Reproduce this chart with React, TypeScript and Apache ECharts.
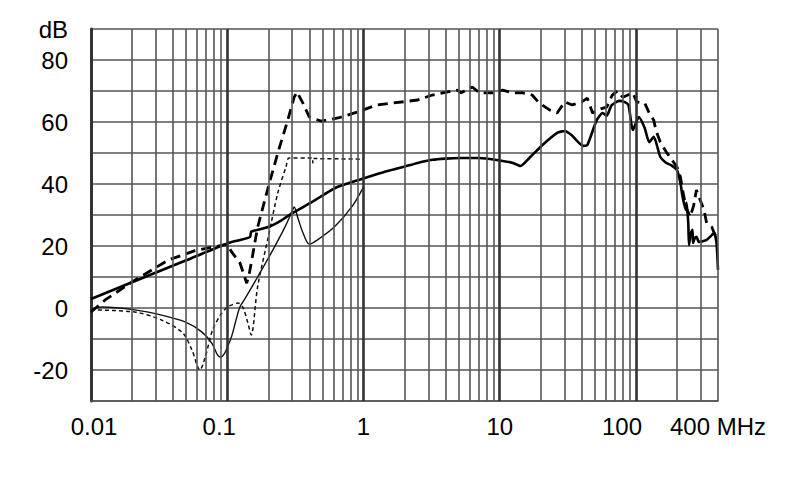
import React, { useEffect, useRef } from "react";
import * as echarts from "echarts";

// Frequencies in MHz, levels in dB
const thickSolidFreq = [0.01, 0.02, 0.05, 0.1, 0.12, 0.147, 0.15, 0.2, 0.25, 0.3, 0.42, 0.62, 0.97, 1.2, 1.5, 1.95, 2.5, 3.2, 4, 5.1, 7.1, 10, 12.5, 14.2, 16.5, 20.6, 26.4, 30, 33.6, 41, 44, 51.5, 57, 61, 66, 75, 82, 88, 95, 105, 116, 125, 135, 151, 167, 181, 200, 212, 220, 232, 235, 242, 245, 252, 260, 262, 270, 278, 290, 330, 360, 375, 390, 400];
const thickSolidDb = [2.9, 8.3, 15.4, 20.8, 21.8, 22.9, 24.6, 26.1, 28.3, 30.6, 34.2, 38.7, 41.6, 42.9, 44.2, 45.5, 46.8, 47.8, 48.2, 48.4, 48.4, 47.6, 46.8, 45.8, 48.4, 52.6, 56.5, 57.1, 55.8, 52.3, 52.6, 60.6, 62.9, 62, 65.3, 66.8, 66.5, 65.5, 57.4, 61.6, 58, 53.5, 55.2, 48.7, 46.8, 46.1, 44.5, 40.3, 35.8, 31.6, 33.9, 27.4, 20.3, 24, 25.2, 21, 22.5, 23, 21.3, 22, 23.5, 24.2, 21, 12.3];

const thickDashFreq = [0.01, 0.0127, 0.02, 0.037, 0.058, 0.091, 0.1, 0.108, 0.124, 0.139, 0.145, 0.15, 0.167, 0.2, 0.235, 0.278, 0.31, 0.325, 0.36, 0.4, 0.49, 0.65, 0.9, 1.25, 1.64, 2.5, 3.2, 4.9, 5.2, 6.3, 7.1, 8.9, 10.5, 12.5, 14.7, 17.3, 19.5, 23.2, 26.4, 30, 34, 40, 44, 48, 52, 61, 67, 73, 80, 95, 101, 116, 125, 135, 140, 151, 167, 184, 200, 212, 220, 232, 250, 265, 278, 290, 316, 330, 360, 375, 400];
const thickDashDb = [-1.3, 2.6, 8.4, 15.5, 18.5, 20.2, 20.5, 18, 14.5, 8, 11, 14.5, 26, 39, 50, 60.6, 68, 69.7, 66, 61.6, 60.3, 61.3, 63.2, 65.5, 66.1, 67.1, 68.7, 70.3, 69.4, 71.3, 69.4, 69.4, 70.3, 69.4, 69.4, 68.7, 66.1, 63.9, 62.9, 66.5, 65.5, 66.5, 67.7, 62.9, 63.9, 64.8, 68.7, 70, 68, 69.4, 66.5, 66.1, 62.9, 60.6, 57.4, 53.5, 50.3, 47.7, 45.5, 42.3, 38.1, 32.6, 29.4, 33, 38.1, 35.8, 31.6, 27.4, 26.1, 24.2, 22];

const thinSolidFreq = [0.01, 0.012, 0.021, 0.033, 0.049, 0.065, 0.077, 0.085, 0.09, 0.096, 0.1, 0.108, 0.115, 0.124, 0.135, 0.167, 0.21, 0.265, 0.3, 0.31, 0.33, 0.36, 0.4, 0.46, 0.61, 0.82, 1.0];
const thinSolidDb = [-0.6, 0.3, -0.6, -2.3, -4.5, -7.7, -11.3, -15.2, -15.8, -14.5, -12.8, -9, -4.5, 0.4, 3, 10, 17.7, 26.1, 31.3, 32.6, 29, 24.2, 20.6, 22, 26.1, 32.6, 39];

const thinDashFreq = [0.01, 0.021, 0.033, 0.047, 0.055, 0.063, 0.069, 0.078, 0.09, 0.1, 0.108, 0.12, 0.13, 0.142, 0.15, 0.167, 0.2, 0.235, 0.27, 0.285, 0.42, 0.425, 0.43, 1.0];
const thinDashDb = [-0.6, -1.3, -3.9, -8, -13.5, -20, -15.8, -7.1, -2, 0.3, 1, 1.6, 0.3, -5, -8.7, 6.8, 22.9, 37.1, 45.5, 48.4, 48.4, 46.8, 48.2, 48];

// Axis grid / tick values
const decadeLines = [0.1, 1, 10, 100];
const minorLines = [0.02, 0.03, 0.04, 0.05, 0.06, 0.07, 0.08, 0.09, 0.2, 0.3, 0.4, 0.5, 0.6, 0.7, 0.8, 0.9, 2, 3, 4, 5, 6, 7, 8, 9, 20, 30, 40, 50, 60, 70, 80, 90, 200, 300, 400];
const xMin = 0.01;
const xMax = 400;
const yMin = -30;
const yMax = 90;
const yStep = 10;

const pairs = (f: number[], d: number[]) => f.map((v, i) => [v, d[i]]);

const FONT = "'Liberation Sans', Arial, sans-serif";

export default function App() {
  const ref = useRef<HTMLDivElement>(null);
  useEffect(() => {
    const chart = echarts.init(ref.current!, null, { renderer: "svg" });
    const labelStyle = { fontSize: 24, fontFamily: FONT, color: "#000" };
    const option = {
      animation: false,
      backgroundColor: "#fff",
      grid: { left: 91, right: 72, top: 29, bottom: 98, containLabel: false },
      xAxis: {
        type: "log",
        logBase: 10,
        min: xMin,
        max: xMax,
        axisLine: { show: true, onZero: false, lineStyle: { color: "#555", width: 1.6 } },
        axisTick: { show: false },
        splitLine: { show: false },
        minorSplitLine: { show: false },
        axisLabel: {
          show: true,
          margin: 13,
          hideOverlap: false,
          showMinLabel: true,
          showMaxLabel: true,
          ...labelStyle,
          formatter: (v: number) => {
            const r = Number(Number(v).toPrecision(3));
            if (r === 0.01) return "{l|0.01}";
            if (r === 0.1) return "{r1|0.1}";
            if (r === 1) return "{n|1}";
            if (r === 10) return "{n|10}";
            if (r === 100) return "{r2|100}";
            if (r === 400) return "{n|400 MHz}";
            return "";
          },
          rich: {
            n: { ...labelStyle },
            l: { ...labelStyle, padding: [0, 0, 0, 6] },
            r1: { ...labelStyle, padding: [0, 16, 0, 0] },
            r2: { ...labelStyle, padding: [0, 28, 0, 0] },
          },
        },
      },
      yAxis: {
        type: "value",
        min: yMin,
        max: yMax,
        interval: yStep,
        axisLine: { show: true, onZero: false, lineStyle: { color: "#333", width: 3 } },
        axisTick: { show: false },
        splitLine: { show: true, lineStyle: { color: "#555", width: 1.6 } },
        axisLabel: {
          margin: 23,
          ...labelStyle,
          padding: [12, 0, 0, 0],
          formatter: (v: number) => {
            if (v === yMax) return "dB";
            if (v > yMin && v % 20 === 0) return String(v);
            return "";
          },
        },
      },
      series: [
        {
          name: "grid",
          type: "line",
          data: [],
          z: 1,
          silent: true,
          markLine: {
            silent: true,
            symbol: ["none", "none"],
            label: { show: false },
            emphasis: { disabled: true },
            animation: false,
            data: [
              ...minorLines.map((v) => ({ xAxis: v, lineStyle: { type: "solid", color: "#555", width: 1.6 } })),
              ...decadeLines.map((v) => ({ xAxis: v, lineStyle: { type: "solid", color: "#333", width: 2.6 } })),
            ],
          },
        },
        {
          name: "thin solid",
          type: "line",
          z: 3,
          data: pairs(thinSolidFreq, thinSolidDb),
          showSymbol: false,
          symbol: "none",
          smooth: 0.3,
          lineStyle: { color: "#111", width: 1.4, type: "solid" },
        },
        {
          name: "thin dashed",
          type: "line",
          z: 3,
          data: pairs(thinDashFreq, thinDashDb),
          showSymbol: false,
          symbol: "none",
          smooth: 0.3,
          lineStyle: { color: "#111", width: 1.5, type: [4, 3] },
        },
        {
          name: "thick dashed",
          type: "line",
          z: 4,
          data: pairs(thickDashFreq, thickDashDb),
          showSymbol: false,
          symbol: "none",
          lineStyle: { color: "#000", width: 2.8, type: [10, 6] },
        },
        {
          name: "thick solid",
          type: "line",
          z: 4,
          data: pairs(thickSolidFreq, thickSolidDb),
          showSymbol: false,
          symbol: "none",
          smooth: 0.2,
          lineStyle: { color: "#000", width: 2.6, type: "solid" },
        },
      ],
    };
    chart.setOption(option as any);
    return () => chart.dispose();
  }, []);
  return (
    <div
      ref={ref}
      style={{ position: "fixed", left: 0, top: 0, width: 790, height: 499, background: "#fff" }}
    />
  );
}
